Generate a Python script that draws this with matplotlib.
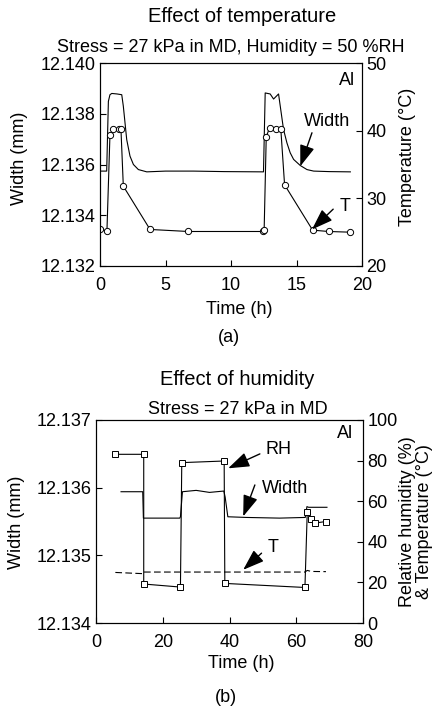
import matplotlib
matplotlib.use("Agg")
import matplotlib.pyplot as plt

plt.rcParams["font.family"] = ["Liberation Sans", "DejaVu Sans"]
plt.rcParams["font.size"] = 13

# (a) effect of temperature
width_a_t = [0.0, 0.51, 0.64, 0.76, 0.9, 1.3, 1.66, 1.78, 2.04, 2.29, 2.55, 2.93,
             3.57, 5.0, 7.13, 9.5, 12.48, 12.61, 12.99, 13.25, 13.63, 13.76, 14.01,
             14.27, 14.52, 14.78, 15.29, 15.80, 16.31, 17.5, 19.11]
width_a = [12.13574, 12.13574, 12.13849, 12.13875, 12.13880, 12.13878, 12.13875,
           12.13830, 12.13698, 12.13633, 12.13600, 12.13580, 12.13571, 12.13574,
           12.13574, 12.13572, 12.13571, 12.13882, 12.13878, 12.13858, 12.13878,
           12.13830, 12.13738, 12.13685, 12.13646, 12.13620, 12.13596, 12.13580,
           12.13574, 12.13572, 12.13571]
temp_a_t = [0.0, 0.53, 0.76, 1.02, 1.43, 1.6, 1.78, 3.82, 6.75, 12.48, 12.53,
            12.69, 12.94, 13.45, 13.8, 14.09, 16.23, 17.45, 19.06]
temp_a = [25.4, 25.2, 39.4, 40.2, 40.2, 40.2, 31.8, 25.4, 25.1, 25.1, 25.3,
          39.1, 40.4, 40.3, 40.3, 32.0, 25.3, 25.1, 25.0]

# (b) effect of humidity
width_b_t = [7.5, 14.0, 14.2, 25.1, 25.3, 25.9, 30.0, 34.0, 38.3, 38.7, 39.5,
             45.0, 55.0, 62.7, 63.2, 63.7, 69.2]
width_b = [12.13594, 12.13594, 12.13555, 12.13555, 12.13557, 12.13594, 12.13596,
           12.13593, 12.13595, 12.13586, 12.13557, 12.13556, 12.13555, 12.13556,
           12.13572, 12.13571, 12.13571]
rh_b_t = [5.8, 14.3, 14.3, 25.3, 25.7, 38.4, 38.6, 62.6, 63.3, 64.4, 65.5, 68.9]
rh_b = [83.1, 83.1, 19.2, 17.7, 79.0, 79.8, 19.5, 17.5, 54.9, 51.1, 49.2, 50.0]
temp_b_t = [5.8, 14.2, 14.3, 62.6, 63.3, 64.5, 68.9]
temp_b = [24.9, 24.3, 25.1, 25.1, 25.9, 25.4, 25.3]

fig = plt.figure(figsize=(4.42, 7.11), dpi=100)

ax1 = fig.add_axes([100 / 442, 1 - 266 / 711, 262 / 442, 203 / 711])
ax1b = ax1.twinx()
ax2 = fig.add_axes([96 / 442, 1 - 623 / 711, 267 / 442, 203 / 711])
ax2b = ax2.twinx()

line_kw = dict(color="black", lw=0.8)
arrow_kw = dict(arrowstyle="-|>,head_length=1.0,head_width=0.35", color="black",
                lw=1.0, shrinkA=0, shrinkB=0)

# panel (a)
ax1.plot(width_a_t, width_a, **line_kw)
ax1b.plot(temp_a_t, temp_a, marker="o", ms=4.5, mfc="white", mec="black",
          mew=0.7, **line_kw)
ax1.set_xlim(0, 20)
ax1.set_ylim(12.132, 12.140)
ax1b.set_ylim(20, 50)
ax1.set_xticks([0, 5, 10, 15, 20])
ax1.set_yticks([12.132, 12.134, 12.136, 12.138, 12.140])
ax1.set_yticklabels(["12.132", "12.134", "12.136", "12.138", "12.140"])
ax1b.set_yticks([20, 30, 40, 50])
ax1.text(18.85, 12.1393, "Al", ha="center", va="center")
ax1.text(17.3, 12.1377, "Width", ha="center", va="center")
ax1.annotate("", xy=(15.29, 12.13593), xytext=(16.18, 12.13725), arrowprops=arrow_kw)
ax1b.text(18.7, 28.8, "T", ha="center", va="center")
ax1b.annotate("", xy=(16.18, 25.4), xytext=(17.8, 28.4), arrowprops=arrow_kw)

# panel (b)
ax2.plot(width_b_t, width_b, **line_kw)
ax2b.plot(rh_b_t, rh_b, marker="s", ms=4.5, mfc="white", mec="black",
          mew=0.7, **line_kw)
ax2b.plot(temp_b_t, temp_b, color="black", lw=0.8, ls=(0, (6, 3)))
ax2.set_xlim(0, 80)
ax2.set_ylim(12.134, 12.137)
ax2b.set_ylim(0, 100)
ax2.set_xticks([0, 20, 40, 60, 80])
ax2.set_yticks([12.134, 12.135, 12.136, 12.137])
ax2.set_yticklabels(["12.134", "12.135", "12.136", "12.137"])
ax2b.set_yticks([0, 20, 40, 60, 80, 100])
ax2b.text(74.7, 93.4, "Al", ha="center", va="center")
ax2b.text(54.6, 85.5, "RH", ha="center", va="center")
ax2b.annotate("", xy=(39.6, 76.2), xytext=(49.1, 83.3), arrowprops=arrow_kw)
ax2b.text(56.6, 66.4, "Width", ha="center", va="center")
ax2b.annotate("", xy=(44.1, 52.5), xytext=(47.6, 68.0), arrowprops=arrow_kw)
ax2b.text(53.1, 37.2, "T", ha="center", va="center")
ax2b.annotate("", xy=(44.1, 26.2), xytext=(49.6, 34.4), arrowprops=arrow_kw)

for ax in (ax1, ax1b, ax2, ax2b):
    ax.tick_params(direction="in", length=4, width=0.8, labelsize=13, pad=3)
    ax.tick_params(axis="x", pad=8)
    for s in ax.spines.values():
        s.set_linewidth(0.8)

# titles and labels
fig.text(242 / 442, 1 - 17 / 711, "Effect of temperature", ha="center", va="center",
         fontsize=14.5)
fig.text(231 / 442, 1 - 47 / 711, "Stress = 27 kPa in MD, Humidity = 50 %RH",
         ha="center", va="center")
fig.text(20 / 442, 1 - 158 / 711, "Width (mm)", rotation=90, ha="center", va="center")
fig.text(408 / 442, 1 - 157 / 711, "Temperature (\u00b0C)", rotation=90,
         ha="center", va="center")
fig.text(239 / 442, 1 - 309 / 711, "Time (h)", ha="center", va="center")
fig.text(229 / 442, 1 - 338 / 711, "(a)", ha="center", va="center")

fig.text(237 / 442, 1 - 380 / 711, "Effect of humidity", ha="center", va="center",
         fontsize=14.5)
fig.text(238 / 442, 1 - 410 / 711, "Stress = 27 kPa in MD", ha="center", va="center")
fig.text(17 / 442, 1 - 522 / 711, "Width (mm)", rotation=90, ha="center", va="center")
fig.text(416 / 442, 1 - 522 / 711, "Relative humidity (%)\n& Temperature (\u00b0C)",
         rotation=90, ha="center", va="center", linespacing=1.0)
fig.text(241 / 442, 1 - 664 / 711, "Time (h)", ha="center", va="center")
fig.text(226 / 442, 1 - 697 / 711, "(b)", ha="center", va="center")

fig.savefig("out.png", dpi=100)
